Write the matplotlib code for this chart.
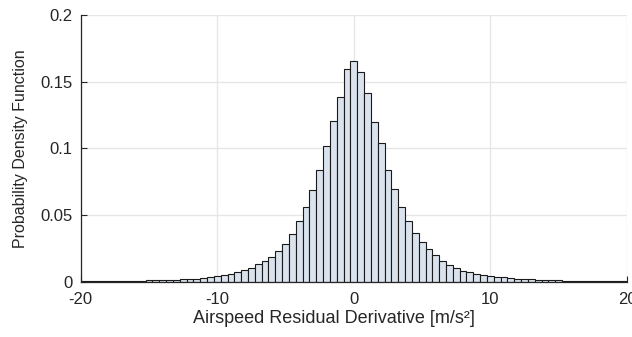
import numpy as np
import matplotlib
matplotlib.use("Agg")
import matplotlib.pyplot as plt

# Bin centres (width 0.5) and probability-density values
bin_centers = np.arange(-20, 20.001, 0.5)
left_tail = [0.0006, 0.0006, 0.0007, 0.0007, 0.0008, 0.0008, 0.0009, 0.0009,
             0.0010, 0.0011, 0.0012, 0.0013, 0.0015, 0.0016, 0.0018, 0.0020,
             0.0023, 0.0026, 0.0030]                       # -20 .. -11
left_body = [0.0036, 0.0045, 0.0052, 0.0060, 0.0073, 0.0090, 0.0105, 0.0132,
             0.0155, 0.0190, 0.0230, 0.0282, 0.0357, 0.0455, 0.0564, 0.0689,
             0.0839, 0.1021, 0.1205, 0.1384, 0.1593]      # -10.5 .. -0.5
peak = [0.1658]                                           # 0
right_body = [0.1571, 0.1413, 0.1196, 0.1041, 0.0837, 0.0697, 0.0564, 0.0459,
              0.0369, 0.0302, 0.0250, 0.0203, 0.0160, 0.0125, 0.0104, 0.0085,
              0.0072, 0.0060, 0.0052, 0.0045, 0.0039]     # 0.5 .. 10.5
right_tail = [0.0034, 0.0029, 0.0025, 0.0022, 0.0019, 0.0017, 0.0015, 0.0013,
              0.0012, 0.0011, 0.0010, 0.0009, 0.0008, 0.0008, 0.0007, 0.0007,
              0.0006, 0.0006, 0.0005]                      # 11 .. 20
pdf_values = left_tail + left_body + peak + right_body + right_tail

x_ticks = [-20, -10, 0, 10, 20]
x_tick_labels = ["-20", "-10", "0", "10", "20"]
y_ticks = [0, 0.05, 0.1, 0.15, 0.2]
y_tick_labels = ["0", "0.05", "0.1", "0.15", "0.2"]
x_label = "Airspeed Residual Derivative [m/s²]"
y_label = "Probability Density Function"

plt.rcParams["font.family"] = ["Liberation Sans", "DejaVu Sans"]

fig = plt.figure(figsize=(6.32, 3.37), dpi=100)
ax = fig.add_axes([0.1277, 0.1632, 0.992 - 0.1277, 0.9555 - 0.1632])

ax.bar(bin_centers, pdf_values, width=0.5, align="center",
       facecolor="#dae3ed", edgecolor="#1a1a1a", linewidth=0.8, zorder=2)

ax.set_xlim(-20, 20)
ax.set_ylim(0, 0.2)
ax.set_xticks(x_ticks)
ax.set_xticklabels(x_tick_labels)
ax.set_yticks(y_ticks)
ax.set_yticklabels(y_tick_labels)

ax.grid(True, color="#e6e6e6", linewidth=1.0, zorder=0)
ax.set_axisbelow(True)
for s in ["top", "right"]:
    ax.spines[s].set_visible(False)
for s in ["left", "bottom"]:
    ax.spines[s].set_color("#262626")
    ax.spines[s].set_linewidth(0.9)
ax.tick_params(direction="in", length=4, width=0.8, colors="#262626",
               labelsize=12, labelcolor="#262626")
ax.tick_params(axis="x", pad=7)
ax.tick_params(axis="y", pad=6)

ax.set_xlabel(x_label, fontsize=13, color="#262626", va="top")
ax.xaxis.set_label_coords(0.4637, -0.103)
ax.set_ylabel(y_label, fontsize=11.5, color="#262626", labelpad=9)

fig.savefig("out.png", dpi=100)
